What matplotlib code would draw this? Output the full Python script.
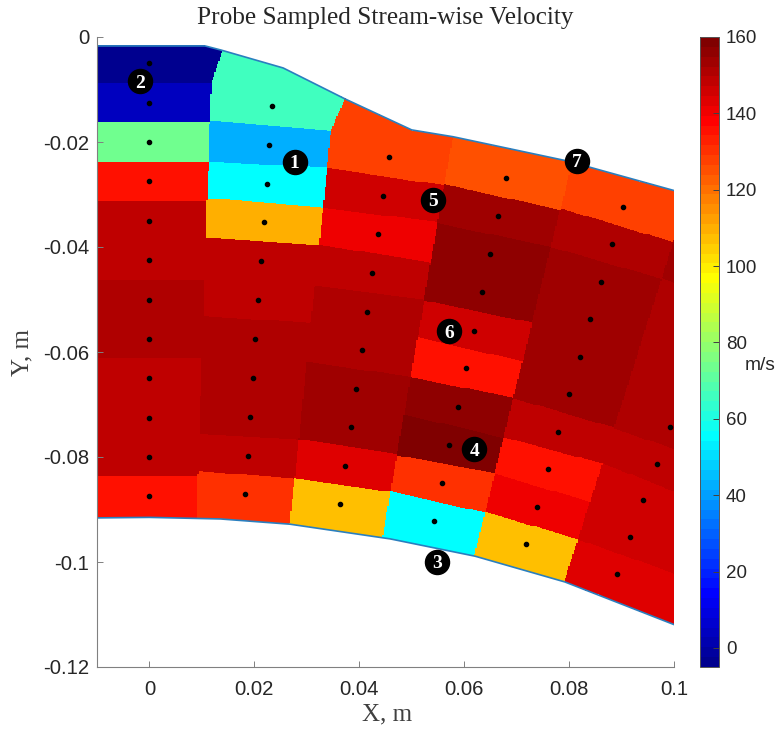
import matplotlib
matplotlib.use('Agg')
import matplotlib.pyplot as plt
from matplotlib.colors import ListedColormap
import numpy as np

# probe locations, one list per rake, top to bottom
col_x = [
    [0.0] * 12,
    [.0234, .0228, .0224, .0218, .0213, .0207, .0202, .0197, .0192, .0188, .0182],
    [.0456, .0445, .0436, .0424, .0415, .0405, .0394, .0384, .0373, .0363],
    [.0680, .0664, .0649, .0634, .0619, .0603, .0588, .0571, .0558, .0542],
    [.0903, .0882, .0861, .0840, .0821, .0800, .0779, .0760, .0739, .0718],
    [.1116, .1092, .1067, .1042, .1017, .0992, .0968, .0941, .0916, .0891],
]
col_y = [
    [-.0050, -.0125, -.0200, -.0275, -.0350, -.0425, -.0500, -.0575, -.0650, -.0725, -.0800, -.0875],
    [-.0131, -.0206, -.0280, -.0352, -.0427, -.0501, -.0575, -.0650, -.0724, -.0798, -.0870],
    [-.0229, -.0303, -.0375, -.0450, -.0524, -.0596, -.0670, -.0743, -.0817, -.0890],
    [-.0269, -.0341, -.0413, -.0486, -.0560, -.0630, -.0705, -.0777, -.0850, -.0922],
    [-.0324, -.0394, -.0467, -.0537, -.0610, -.0680, -.0752, -.0823, -.0895, -.0966],
    [-.0390, -.0461, -.0531, -.0602, -.0672, -.0743, -.0813, -.0882, -.0952, -.1023],
]
# stream-wise velocity at each probe, m/s
col_u = [
    [-3.7, 4, 73.7, 135.5, 148.4, 148.4, 151, 151, 148.4, 148.4, 148.4, 135.5],
    [65.9, 42, 55.6, 109.7, 148.4, 148.4, 151, 151, 151, 148.4, 130.4],
    [127.8, 145.8, 140.7, 148.4, 151, 151, 153.6, 153.6, 143.2, 107.1],
    [125.2, 153.6, 156.1, 156.1, 145.8, 135.5, 156.1, 158.7, 130.4, 55.6],
    [127.8, 151, 153.6, 153.6, 153.6, 153.6, 148.4, 135.5, 140.7, 107.1],
    [151, 153.6, 151, 151, 151, 151, 148.4, 145.8, 145.8, 143.2],
]

upper_x = [-.01, .0106, .0137, .0255, .0373, .0500, .0579, .0796, .1002]
upper_y = [-.0017, -.0017, -.0025, -.0059, -.0118, -.0177, -.0190, -.0236, -.0293]
lower_x = [-.01, 0.0, .0135, .0268, .0459, .0621, .0792, .1002]
lower_y = [-.0916, -.0915, -.0918, -.0928, -.0956, -.0989, -.1038, -.1120]

label_num = ['1', '2', '3', '4', '5', '6', '7']
label_x = [.0277, -.0018, .0548, .0619, .0541, .0571, .0815]
label_y = [-.0238, -.0084, -.1000, -.0785, -.0310, -.0560, -.0236]


def matlab_jet():
    # same ramp as jet(64) in MATLAB, mpl's own jet has different end levels
    u = np.r_[np.arange(1, 17) / 16, np.ones(15), np.arange(16, 0, -1) / 16]
    rgb = np.zeros((64, 3))
    g = np.arange(8, 55)
    rgb[g[g + 16 < 64] + 16, 0] = u[g + 16 < 64]
    rgb[g, 1] = u
    rgb[g[g - 16 >= 0] - 16, 2] = u[g - 16 >= 0]
    return ListedColormap(rgb)


def nearest_field(px, py, pu, upper, lower):
    # nearest probe value on a fine mesh, blanked outside the walls
    xc = np.arange(-.01, .1003, .00025)
    yc = np.arange(-.1205, 0, .00018)
    xx, yy = np.meshgrid(xc, yc)
    d = (xx[..., None] - px) ** 2 + (yy[..., None] - py) ** 2
    uu = pu[np.argmin(d, axis=2)]
    top = np.interp(xc, upper[0], upper[1])
    bot = np.interp(xc, lower[0], lower[1])
    mask = (yy > top) | (yy < bot)
    return xc, yc, np.ma.array(uu, mask=mask)


def run():
    px = np.concatenate(col_x)
    py = np.concatenate(col_y)
    pu = np.array(np.concatenate(col_u), dtype=float)

    fig = plt.figure(figsize=(7.81, 7.31), dpi=100)
    ax = fig.add_axes([97 / 781, 1 - 667 / 731, 577 / 781, 630 / 731])
    cax = fig.add_axes([700 / 781, 1 - 667 / 731, 19 / 781, 630 / 731])

    xc, yc, uu = nearest_field(px, py, pu, (upper_x, upper_y), (lower_x, lower_y))
    mesh = ax.pcolormesh(xc, yc, uu, cmap=matlab_jet(), vmin=-5, vmax=160,
                         shading='nearest', rasterized=True)
    ax.plot(upper_x, upper_y, color='#2a7fbf', lw=1.2)
    ax.plot(lower_x, lower_y, color='#2a7fbf', lw=1.2)
    ax.scatter(px, py, s=9, c='k', zorder=3)

    ax.scatter(label_x, label_y, s=300, c='k', zorder=4)
    for n, x, y in zip(label_num, label_x, label_y):
        ax.text(x, y, n, color='w', ha='center', va='center_baseline', zorder=5,
                family='Liberation Serif', weight='bold', fontsize=14)

    ax.set_xlim(-.01, .1)
    ax.set_ylim(-.12, 0)
    ax.set_xticks([0, .02, .04, .06, .08, .1], ['0', '0.02', '0.04', '0.06', '0.08', '0.1'])
    ax.set_yticks([-.12, -.1, -.08, -.06, -.04, -.02, 0],
                  ['-0.12', '-0.1', '-0.08', '-0.06', '-0.04', '-0.02', '0'])
    ax.tick_params(direction='in', length=4.2, width=.7, color='#808080',
                   labelcolor='#262626', labelsize=14.6)
    ax.tick_params(axis='x', pad=9.5)
    ax.tick_params(axis='y', pad=5.5)
    for tl in ax.get_xticklabels() + ax.get_yticklabels():
        tl.set_family('Liberation Sans')
    ax.spines['top'].set_visible(False)
    ax.spines['right'].set_visible(False)
    ax.spines['left'].set_color('#808080')
    ax.spines['bottom'].set_color('#808080')

    cb = fig.colorbar(mesh, cax=cax)
    cb.set_ticks(np.arange(0, 161, 20))
    cb.ax.tick_params(direction='in', length=4.2, width=.7, color='#404040',
                      labelcolor='#262626', labelsize=13.5, pad=5)
    for tl in cb.ax.get_yticklabels():
        tl.set_family('Liberation Sans')
    cb.outline.set_linewidth(.7)
    cb.outline.set_edgecolor('#555555')

    fig.text(745 / 781, 1 - 366 / 731, 'm/s', family='Liberation Sans', fontsize=13.8,
             color='#262626', ha='left', va='center')
    fig.text(385 / 781, 1 - 18 / 731, 'Probe Sampled Stream-wise Velocity',
             family='Liberation Serif', fontsize=18.2, color='#262626', ha='center', va='center')
    fig.text(387 / 781, 1 - 714 / 731, 'X, m', family='Liberation Serif', fontsize=18,
             color='#404040', ha='center', va='center')
    fig.text(22 / 781, 1 - 352 / 731, 'Y, m', family='Liberation Serif', fontsize=18,
             color='#404040', ha='center', va='center', rotation=90)

    fig.savefig('out.png', dpi=100)
    plt.close(fig)


if __name__ == '__main__':
    run()
